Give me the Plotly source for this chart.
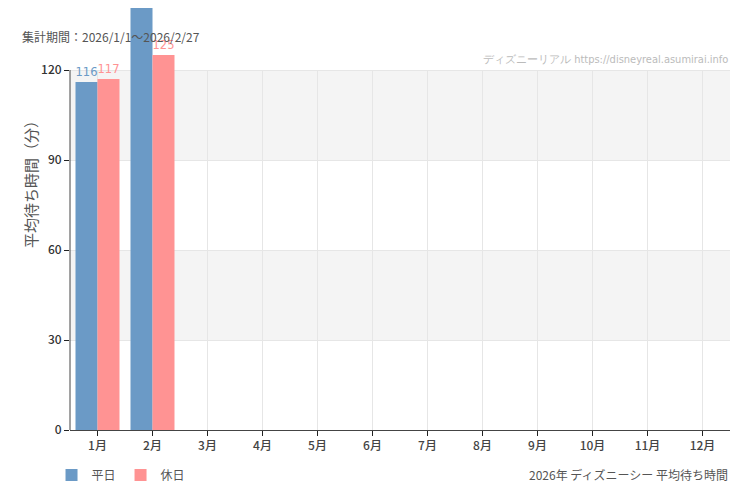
import plotly.graph_objects as go

months = ["1月", "2月", "3月", "4月", "5月", "6月", "7月", "8月", "9月", "10月", "11月", "12月"]
weekday = [116, 150, None, None, None, None, None, None, None, None, None, None]
holiday = [117, 125, None, None, None, None, None, None, None, None, None, None]
yticks = [0, 30, 60, 90, 120]
ymax = 120

blue = "#6b9ac6"
pink = "#ff9393"
narrow = "DejaVu Sans Condensed"

# labels that would sit above the top of the picture are not drawn
pos_weekday = ["outside" if v is not None and v <= ymax + 10 else "none" for v in weekday]
pos_holiday = ["outside" if v is not None and v <= ymax + 10 else "none" for v in holiday]

fig = go.Figure()
fig.add_bar(x=months, y=weekday, name="平日", marker_color=blue, marker_line_width=0,
            text=weekday, textposition=pos_weekday, cliponaxis=False,
            textfont=dict(color=blue, size=15, family=narrow))
fig.add_bar(x=months, y=holiday, name="休日", marker_color=pink, marker_line_width=0,
            text=holiday, textposition=pos_holiday, cliponaxis=False,
            textfont=dict(color=pink, size=15, family=narrow))

# grey bands behind the bars
for lo, hi in [(30, 60), (90, 120)]:
    fig.add_shape(type="rect", xref="paper", x0=0, x1=1, yref="y", y0=lo, y1=hi,
                  fillcolor="#f4f4f4", line_width=0, layer="below")
# vertical grid lines and y axis line, only up to the top tick
for m in months:
    fig.add_shape(type="line", xref="x", x0=m, x1=m, yref="y", y0=0, y1=ymax,
                  line=dict(color="#e6e6e6", width=1), layer="below")
fig.add_shape(type="line", xref="paper", x0=0, x1=0, yref="y", y0=0, y1=ymax,
              line=dict(color="#444", width=1))

fig.add_annotation(text="集計期間：2026/1/1～2026/2/27", xref="paper", yref="paper",
                   x=-0.0758, y=0.9313, xanchor="left", yanchor="middle", showarrow=False,
                   font=dict(size=12, color="#555"))
fig.add_annotation(text="ディズニーリアル https://disneyreal.asumirai.info", xref="paper", yref="paper",
                   x=1, y=0.8768, xanchor="right", yanchor="middle", showarrow=False,
                   font=dict(size=11, color="#bbb", family=narrow))
fig.add_annotation(text="2026年 ディズニーシー 平均待ち時間", xref="paper", yref="paper",
                   x=1, y=-0.1066, xanchor="right", yanchor="middle", showarrow=False,
                   font=dict(size=12, color="#555"))
fig.add_annotation(text="平均待ち時間（分）", xref="paper", yref="paper", textangle=-90,
                   x=-0.0606, y=0.590, xanchor="center", yanchor="middle", showarrow=False,
                   font=dict(size=15, color="#555"))

fig.update_layout(
    width=750, height=500,
    margin=dict(l=62, r=28, t=0, b=78, autoexpand=False),
    paper_bgcolor="white", plot_bgcolor="white",
    font=dict(family="Noto Sans CJK JP, Noto Sans", color="#444", size=12),
    barmode="group", bargap=0.2, bargroupgap=0,
    showlegend=True,
    legend=dict(orientation="h", x=-0.028, y=-0.1066, xanchor="left", yanchor="middle",
                font=dict(size=12, color="#555")),
)
fig.update_xaxes(showline=True, linecolor="#444", linewidth=1,
                 ticks="outside", ticklen=5, tickcolor="#222", showgrid=False,
                 tickfont=dict(size=12, color="#444", weight=500))
fig.update_yaxes(range=[0, 422 / 3], tickvals=yticks, showline=False,
                 ticks="outside", ticklen=5, tickcolor="#222",
                 showgrid=True, gridcolor="#e6e6e6", zeroline=False,
                 tickfont=dict(size=12, color="#333", weight=500))

fig.write_html("out.html")
